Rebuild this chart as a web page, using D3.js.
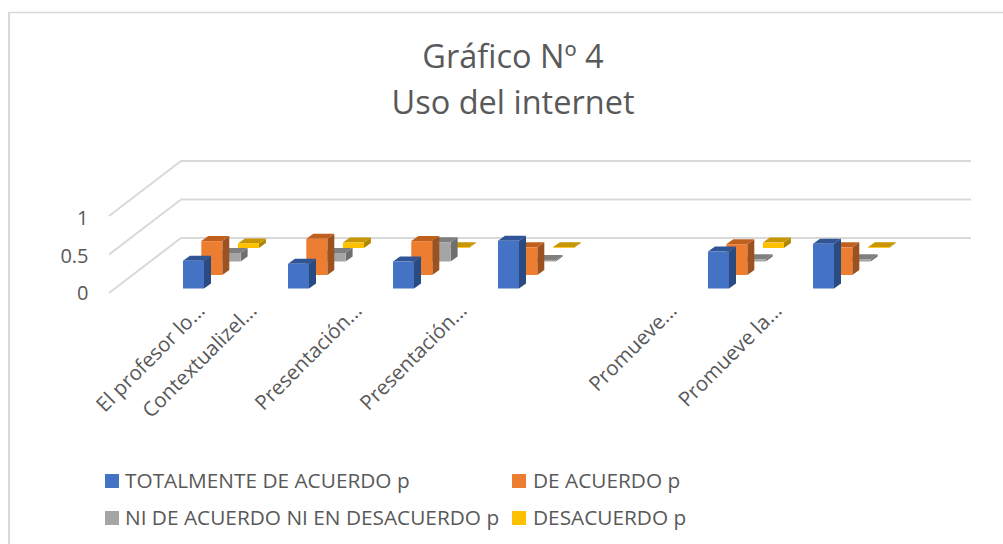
<!DOCTYPE html>
<html><head><meta charset="utf-8">
<script src="https://cdn.jsdelivr.net/npm/d3@7"></script>
<style>html,body{margin:0;padding:0;background:#fff}svg{display:block}text{font-family:"Open Sans",sans-serif;fill:#595959}</style>
</head><body><svg id="c" width="1003" height="544"></svg>
<script>
const categories=["El profesor lo...","Contextualizel...","Presentación...","Presentación...","","Promueve...","Promueve la..."];
const seriesNames=["TOTALMENTE DE ACUERDO p","DE ACUERDO p","NI DE ACUERDO NI EN DESACUERDO p","DESACUERDO p"];
const titleLines=["Gráfico Nº 4","Uso del internet"];
const totalmente=[0.36,0.32,0.35,0.62,null,0.48,0.58];
const deAcuerdo=[0.44,0.47,0.44,0.36,null,0.40,0.36];
const niNi=[0.11,0.11,0.25,0.02,null,0.03,0.03];
const desacuerdo=[0.06,0.07,0.01,0.01,null,0.07,0.01];
const yTicks=[0,0.5,1];
const fronts=["#4472c4","#ed7d31","#a5a5a5","#ffc000"];
const tops=["#2f5597","#c0601f","#7f7f7f","#c79600"];
const sides=["#2a4a82","#9c5220","#6f6f6f","#b08600"];
const allSeries=[totalmente,deAcuerdo,niNi,desacuerdo];

const svg=d3.select("#c");

svg.append("path").attr("d","M9,544V13").attr("fill","none").attr("stroke","#d9d9d9").attr("stroke-width",2);
svg.append("path").attr("d","M8,12.5H1003").attr("fill","none").attr("stroke","#d9d9d9").attr("stroke-width",1.5);

const x=d3.scalePoint().domain(d3.range(categories.length)).range([183,813]);
const y=d3.scaleLinear().domain([0,1]).range([0,-77]);
const barW=21, depthX=7, depthY=-5, baseY=288.5, stepX=18.3, stepY=-13.5;
const floorX=109, floorY=293, wallX=181, wallY=238, wallEnd=971;
const tickY=d3.scaleLinear().domain([0,1]).range([300,225]);

yTicks.forEach(t=>{
  const d=y(t);
  svg.append("path").attr("fill","none").attr("stroke","#d9d9d9").attr("stroke-width",2)
    .attr("d",`M${floorX},${floorY+d}L${wallX},${wallY+d}H${wallEnd}`);
  svg.append("text").attr("x",88.5).attr("y",tickY(t)).attr("text-anchor","end")
    .attr("font-size",20).text(d3.format("~g")(t));
});

d3.range(3,-1,-1).forEach(s=>{
  const g=svg.append("g");
  allSeries[s].forEach((v,i)=>{
    if(v==null)return;
    const l=x(i)+s*stepX, r=l+barW, b=baseY+s*stepY, t=b+y(v);
    g.append("path").attr("fill",sides[s]).attr("d",`M${r},${b}L${r+depthX},${b+depthY}V${t+depthY}L${r},${t}Z`);
    g.append("path").attr("fill",tops[s]).attr("d",`M${l},${t}L${l+depthX},${t+depthY}H${r+depthX}L${r},${t}Z`);
    g.append("rect").attr("fill",fronts[s]).attr("x",l).attr("y",t).attr("width",barW).attr("height",b-t);
  });
});

categories.forEach((c,i)=>{
  if(!c)return;
  const px=i===0?x(i)+23:x(i)-30;
  svg.append("text").attr("text-anchor","end").attr("font-size",20.5)
    .attr("transform",`translate(${px},312) rotate(-45)`).text(c);
});

titleLines.forEach((c,i)=>{
  svg.append("text").attr("x",513).attr("y",68+i*46).attr("text-anchor","middle").attr("font-size",32.5).text(c);
});

[[105,474],[512,474],[105,511],[512,511]].forEach((p,i)=>{
  svg.append("rect").attr("x",p[0]).attr("y",p[1]).attr("width",14).attr("height",14).attr("fill",fronts[i]);
  svg.append("text").attr("x",p[0]+(i%2?21:20)).attr("y",p[1]+14).attr("font-size",20.8).text(seriesNames[i]);
});
</script></body></html>
